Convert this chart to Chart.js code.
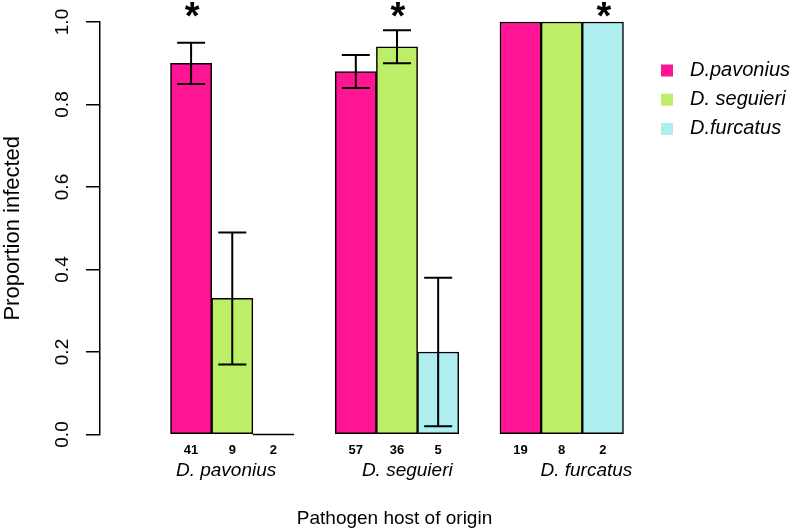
<!DOCTYPE html>
<html><head><meta charset="utf-8">
<script src="https://cdn.jsdelivr.net/npm/chart.js@4.4.0/dist/chart.umd.min.js"></script>
<style>html,body{margin:0;padding:0;background:#fff;}</style>
</head><body>
<canvas id="c" width="800" height="532"></canvas>
<script>
// ---------------- data ----------------
const hostGroups   = ['D. pavonius', 'D. seguieri', 'D. furcatus'];
const seriesNames  = ['D.pavonius', 'D. seguieri', 'D.furcatus'];
const pavoniusProp = [0.90, 0.88, 1.00];
const seguieriProp = [0.33, 0.94, 1.00];
const furcatusProp = [0.00, 0.20, 1.00];
const pavoniusN    = [41, 57, 19];
const seguieriN    = [9, 36, 8];
const furcatusN    = [2, 5, 2];
const pavoniusLow  = [0.85, 0.84, null];
const pavoniusHigh = [0.95, 0.92, null];
const seguieriLow  = [0.17, 0.90, null];
const seguieriHigh = [0.49, 0.98, null];
const furcatusLow  = [null, 0.02, null];
const furcatusHigh = [null, 0.38, null];
const pavoniusStar = [true, false, false];
const seguieriStar = [false, true, false];
const furcatusStar = [false, false, true];
const yTicks = [0, 0.2, 0.4, 0.6, 0.8, 1.0];
const yTitle = 'Proportion infected';
const xTitle = 'Pathogen host of origin';

// ---------------- layout / styling ----------------
const FONT = '"Liberation Sans", Arial, Helvetica, sans-serif';
const colors = ['#FF1493', '#BCEE68', '#AEEEEE'];
const groupLabelSlots = [1.85, 6.25, 10.6];   // where the host-of-origin names sit on the x scale
const series = [
  {name: seriesNames[0], vals: pavoniusProp, n: pavoniusN, lo: pavoniusLow, hi: pavoniusHigh, star: pavoniusStar},
  {name: seriesNames[1], vals: seguieriProp, n: seguieriN, lo: seguieriLow, hi: seguieriHigh, star: seguieriStar},
  {name: seriesNames[2], vals: furcatusProp, n: furcatusN, lo: furcatusLow, hi: furcatusHigh, star: furcatusStar}
];
const pos = (g, s) => g * 4 + s + 1;   // 3 bars per group, one empty slot between groups
const barTicks = [], nLabelAt = {};
series.forEach((se, s) => se.n.forEach((n, g) => { barTicks.push(pos(g, s)); nLabelAt[pos(g, s)] = String(n); }));
barTicks.sort((a, b) => a - b);
const groupLabelAt = {}; hostGroups.forEach((h, g) => groupLabelAt[groupLabelSlots[g]] = h);
const XMIN = -1.212, XMAX = 13.091;

const datasets = series.map((se, s) => ({
  label: se.name,
  data: se.vals.map((v, g) => ({x: pos(g, s), y: v})),
  backgroundColor: colors[s],
  borderColor: '#000',
  borderWidth: 1.5,
  borderSkipped: false,
  barPercentage: 1,
  categoryPercentage: 1,
  grouped: false,
  clip: false,
  xAxisID: 'x'
}));

const extras = {
  id: 'extras',
  afterDatasetsDraw(chart) {
    const ctx = chart.ctx, xs = chart.scales.x, ys = chart.scales.y;
    ctx.save();
    ctx.strokeStyle = '#000';
    series.forEach((se, s) => se.vals.forEach((v, g) => {
      const p = pos(g, s), px = xs.getPixelForValue(p);
      if (v === 0) {
        ctx.lineWidth = 1.5;
        ctx.beginPath();
        ctx.moveTo(xs.getPixelForValue(p - 0.5), ys.getPixelForValue(0));
        ctx.lineTo(xs.getPixelForValue(p + 0.5), ys.getPixelForValue(0));
        ctx.stroke();
      }
      if (se.lo[g] != null) {
        const yl = ys.getPixelForValue(se.lo[g]), yh = ys.getPixelForValue(se.hi[g]);
        ctx.lineWidth = 2;
        ctx.beginPath();
        ctx.moveTo(px, yl); ctx.lineTo(px, yh);
        ctx.moveTo(px - 14, yl); ctx.lineTo(px + 14, yl);
        ctx.moveTo(px - 14, yh); ctx.lineTo(px + 14, yh);
        ctx.stroke();
      }
      if (se.star[g]) {
        ctx.fillStyle = '#000';
        ctx.font = 'bold 38px ' + FONT;
        ctx.textAlign = 'center';
        ctx.textBaseline = 'alphabetic';
        ctx.fillText('*', px + 1, 29);
      }
    }));
    ctx.restore();
  },
  afterDraw(chart) {
    const ctx = chart.ctx, ys = chart.scales.y;
    ctx.save();
    // rotated y tick labels (R style)
    ctx.fillStyle = '#000';
    ctx.font = '19px ' + FONT;
    ctx.textAlign = 'center';
    ctx.textBaseline = 'middle';
    ys.ticks.forEach(t => {
      ctx.save();
      ctx.translate(62.5, ys.getPixelForValue(t.value));
      ctx.rotate(-Math.PI / 2);
      ctx.fillText(t.value.toFixed(1), 0, 0);
      ctx.restore();
    });
    // legend
    chart.data.datasets.forEach((d, i) => {
      const cy = 70.5 + i * 29.2;
      ctx.fillStyle = d.backgroundColor;
      ctx.fillRect(661, cy - 6, 12, 12);
      ctx.fillStyle = '#000';
      ctx.font = 'italic 20px ' + FONT;
      ctx.textAlign = 'left';
      ctx.textBaseline = 'middle';
      ctx.fillText(d.label, 690, cy);
    });
    ctx.restore();
  }
};

new Chart(document.getElementById('c'), {
  type: 'bar',
  data: {datasets},
  options: {
    responsive: false,
    animation: false,
    devicePixelRatio: 1,
    layout: {padding: {top: 22, right: 111, bottom: 0, left: 0}},
    plugins: {legend: {display: false}, tooltip: {enabled: false}},
    scales: {
      x: {
        type: 'linear', position: 'bottom', weight: 0,
        min: XMIN, max: XMAX, offset: false,
        afterBuildTicks: sc => { sc.ticks = barTicks.map(v => ({value: v})); },
        ticks: {callback: v => nLabelAt[v] || '', autoSkip: false, maxRotation: 0, minRotation: 0,
                padding: 8, color: '#000', font: {family: FONT, size: 13, weight: 'bold'}},
        grid: {display: false, drawTicks: false},
        border: {display: false},
        afterFit: sc => { sc.height = 24; }
      },
      x2: {
        type: 'linear', position: 'bottom', weight: 1,
        min: XMIN, max: XMAX, offset: false,
        afterBuildTicks: sc => { sc.ticks = groupLabelSlots.map(v => ({value: v})); },
        ticks: {callback: v => groupLabelAt[v] || '', autoSkip: false, maxRotation: 0, minRotation: 0,
                padding: 1, color: '#000', font: {family: FONT, size: 19, style: 'italic'}},
        grid: {display: false, drawTicks: false},
        border: {display: false},
        title: {display: true, text: xTitle, color: '#000', font: {family: FONT, size: 19},
                padding: {top: 0, bottom: 2}},
        afterFit: sc => { sc.height = 73.5; }
      },
      y: {
        min: 0, max: 1, position: 'left',
        afterBuildTicks: sc => { sc.ticks = yTicks.map(v => ({value: v})); },
        ticks: {display: false},
        grid: {drawOnChartArea: false, drawTicks: true, tickLength: 14, color: '#000', lineWidth: 1.5},
        border: {display: true, color: '#000', width: 1.5},
        title: {display: true, text: yTitle, color: '#000', font: {family: FONT, size: 22},
                padding: {top: 0, bottom: 0}},
        afterFit: sc => { sc.width = 100; }
      }
    }
  },
  plugins: [extras]
});
</script>
</body></html>
